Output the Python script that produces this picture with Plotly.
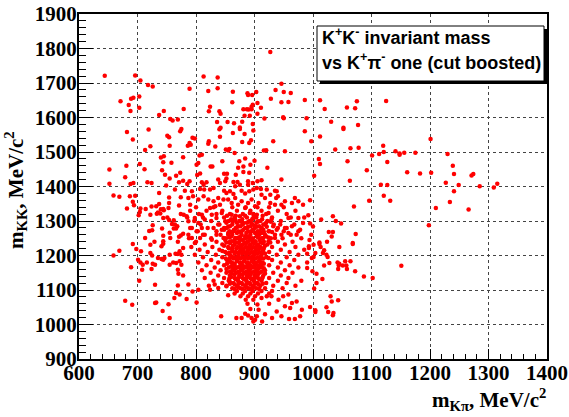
import plotly.graph_objects as go

# ---- data: (m_Kpi, m_KK) in MeV/c^2 ----
pts_upper_left = [(644,1721),(696,1722),(705,1707),(718,1694),(726,1690),(671,1647),(689,1654),(693,1657),(703,1661),(685,1636),(688,1619),(703,1628),(745,1619),(737,1607),(756,1596),(760,1591),(769,1594),(779,1625)]
pts_upper_mid = [(927,1790),(813,1719),(837,1716),(789,1683),(821,1677),(837,1685),(863,1675),(946,1698),(936,1680),(950,1674),(962,1671),(888,1670),(889,1665),(896,1665),(903,1674),(928,1654),(986,1651),(824,1631),(822,1618),(840,1618),(842,1611),(862,1644),(946,1644),(958,1645),(905,1642),(897,1637),(911,1628),(881,1624),(887,1624),(890,1623),(895,1624),(895,1631),(905,1611),(883,1605),(892,1605),(917,1597),(949,1601),(950,1598),(989,1598),(836,1587),(854,1587),(865,1583),(879,1588),(897,1581),(842,1570),(875,1571)]
pts_upper_right = [(1012,1650),(1020,1625),(1058,1629),(1072,1627),(1075,1647),(1125,1648),(1031,1588),(1052,1570),(1077,1578)]
pts_mid_left = [(682,1558),(719,1565),(692,1536),(751,1547),(754,1543),(773,1560),(775,1567),(755,1518),(713,1506),(722,1517),(740,1484),(745,1488),(744,1470),(758,1469),(778,1485),(652,1449),(681,1460),(704,1465),(712,1450),(679,1427),(742,1447),(773,1440),(747,1434),(755,1423),(766,1431),(652,1408),(688,1407),(693,1410),(717,1412),(724,1410),(771,1412),(778,1417),(749,1403),(764,1391),(737,1381),(659,1374),(669,1370),(687,1372),(696,1373),(754,1368),(692,1356),(694,1346),(705,1336),(704,1326),(682,1336),(714,1335),(724,1342),(732,1343),(737,1349),(740,1334),(744,1335),(735,1325),(739,1322),(745,1331),(754,1352),(753,1338),(774,1369),(771,1345),(702,1317),(722,1318),(733,1321),(751,1310),(754,1303),(762,1302),(744,1309),(774,1320),(779,1318),(726,1288),(725,1273),(720,1271),(742,1278),(759,1291),(764,1290),(768,1285),(766,1278),(762,1278),(755,1266),(756,1251),(771,1254),(774,1258),(778,1263),(744,1257),(713,1251),(729,1240),(744,1241),(769,1240)]
pts_mid_centre = [(794,1541),(798,1539),(789,1526),(786,1518),(791,1521),(822,1531),(821,1524),(841,1544),(840,1566),(863,1555),(883,1552),(875,1567),(898,1562),(879,1529),(891,1526),(894,1534),(833,1516),(851,1507),(855,1504),(857,1509),(932,1531),(916,1504),(920,1505),(866,1497),(952,1502),(986,1560),(810,1492),(806,1490),(845,1473),(828,1458),(825,1458),(804,1468),(801,1463),(874,1473),(884,1481),(900,1475),(893,1463),(881,1458),(872,1454),(848,1437),(853,1437),(868,1434),(881,1442),(891,1440),(922,1454),(802,1433),(807,1438),(789,1415),(785,1407),(810,1412),(813,1405),(818,1412),(838,1420),(841,1410),(850,1415),(852,1423),(864,1413),(871,1413),(875,1405),(867,1401),(889,1415),(897,1410),(889,1405),(905,1415),(912,1418),(946,1420),(781,1388),(793,1386),(807,1393),(814,1391),(824,1391),(830,1396),(848,1388),(852,1381),(858,1386),(864,1378),(878,1388),(884,1380),(891,1386),(898,1391),(904,1396),(911,1393),(921,1391),(935,1388),(938,1386),(912,1376),(918,1367),(927,1376),(940,1372),(787,1367),(795,1372),(804,1362),(813,1372),(790,1347),(821,1362),(830,1357),(838,1367),(847,1362),(841,1347),(833,1343),(824,1338),(855,1362),(861,1352),(867,1367),(872,1347),(878,1357),(884,1338),(889,1352),(895,1362),(901,1343),(907,1352),(927,1352),(935,1347),(946,1347),(952,1357),(964,1352),(975,1357),(983,1347),(937,1367),(969,1367)]
pts_core_upper = [(784,1314),(787,1299),(798,1309),(804,1294),(810,1318),(815,1304),(793,1280),(801,1270),(810,1280),(815,1260),(807,1251),(793,1251),(787,1260),(798,1236),(827,1318),(835,1309),(844,1323),(850,1299),(838,1290),(830,1280),(844,1275),(852,1280),(835,1260),(847,1251),(855,1260),(861,1241),(827,1246),(861,1318),(867,1304),(875,1314),(881,1294),(872,1285),(864,1270),(878,1270),(887,1280),(884,1256),(875,1246),(867,1251),(889,1241),(892,1323),(898,1309),(904,1318),(895,1294),(901,1285),(907,1299),(912,1280),(895,1270),(904,1260),(909,1270),(915,1251),(901,1241),(892,1251),(918,1290),(924,1323),(929,1304),(932,1285),(924,1270),(938,1275),(944,1290),(952,1280),(946,1260),(935,1251),(958,1265),(964,1285),(972,1260),(978,1275),(983,1294),(975,1309),(958,1309),(924,1241)]
pts_right_mid = [(1052,1567),(997,1531),(1012,1545),(1038,1507),(1064,1511),(1078,1512),(1120,1518),(1121,1500),(1113,1494),(1101,1490),(1141,1502),(1148,1496),(1148,1492),(1156,1498),(1175,1498),(1010,1480),(1012,1465),(1059,1473),(1127,1471),(1092,1447),(1161,1441),(1183,1438),(1002,1431),(1063,1417),(1116,1405),(1127,1404),(1121,1373),(1132,1359),(995,1360),(1096,1359),(1070,1342),(992,1317),(1014,1304),(1034,1314),(1039,1300),(1048,1293),(995,1293),(1000,1284),(997,1260),(994,1245),(1027,1268),(1034,1268),(1032,1255),(1073,1262),(1011,1238),(1024,1240),(1068,1236),(1198,1288)]
pts_far_right = [(1201,1538),(1230,1494),(1239,1460),(1241,1436),(1202,1440),(1271,1432),(1274,1436),(1227,1411),(1249,1404),(1285,1401),(1309,1397),(1315,1408),(1241,1386),(1234,1355),(1210,1338),(1266,1333)]
pts_low_left = [(659,1200),(669,1214),(692,1233),(698,1219),(706,1212),(701,1188),(705,1180),(709,1173),(716,1180),(726,1176),(724,1161),(689,1166),(708,1159),(703,1127),(730,1173),(735,1193),(741,1190),(744,1188),(746,1193),(722,1231),(722,1207),(725,1200),(741,1227),(744,1234),(755,1202),(765,1205),(769,1204),(775,1202),(772,1183),(755,1173),(761,1180),(766,1178),(775,1173),(769,1159),(770,1147),(778,1142),(769,1113),(766,1091),(772,1087),(763,1077),(778,1222),(772,1212),(730,1115),(679,1069),(691,1057),(732,1064),(730,1062),(753,1059),(743,1039),(755,1019)]
pts_low_centre = [(843,1024),(869,1019),(878,1019),(884,1031),(889,1026),(895,1019),(904,1024),(907,1043),(905,1058),(901,1014),(898,1009),(913,1009),(918,1030),(930,1019),(938,1038),(946,1024),(952,1053),(961,1048),(959,1016),(969,1016),(978,1024),(981,1043),(972,1067),(901,1082),(912,1077),(921,1082),(929,1082),(941,1072),(949,1082),(958,1087),(964,1062),(784,1074),(801,1064),(794,1096),(804,1101),(824,1101),(838,1106),(852,1111),(832,1116),(787,1116),(855,1085)]
pts_low_right = [(993,1227),(1001,1231),(1011,1233),(1013,1225),(1019,1215),(1017,1207),(1023,1202),(1025,1196),(1004,1207),(1001,1196),(998,1193),(990,1205),(993,1222),(1045,1225),(1068,1233),(1028,1178),(1019,1171),(1042,1180),(1045,1176),(1044,1171),(1055,1183),(1064,1183),(1051,1171),(1057,1171),(1058,1161),(1043,1161),(1072,1154),(1087,1139),(1102,1135),(1151,1170),(999,1154),(1006,1147),(990,1164),(1016,1132),(1006,1120),(1002,1104),(1030,1082),(1032,1067),(1043,1070),(995,1051),(1004,1041),(1004,1036),(1023,1050),(1026,1036),(1035,1033),(1034,1027)]

# dense core, row by row: m_KK value of each row and the m_Kpi values in it
core_rows_mkk = [1340,1330,1320,1310,1300,1290,1280,1270,1260,1250,1240,1232,1225,1217,1210,1202,1195,1187,1180,1172,1165,1157,1150,1142,1135,1127,1120,1112,1105,1097,1090,1082,1072,1060,1045]
core_rows_mkpi = [
    [800,830,862,885,905,925,950],
    [790,818,845,870,893,912,940,970],
    [805,835,858,880,898,920,955],
    [785,812,848,866,887,903,930,962,985],
    [797,826,856,874,892,910,922,945],
    [808,840,862,880,896,915,933,968],
    [790,820,848,868,884,900,912,940,955],
    [803,835,857,872,889,905,925,950,975],
    [812,842,862,878,893,908,918,935,962],
    [788,826,851,870,884,897,912,928,948,980],
    [800,835,858,874,888,902,916,940,965],
    [815,845,866,880,893,906,922,952],
    [792,828,855,871,885,898,910,930,970],
    [806,840,862,877,890,903,915,945,985],
    [820,850,868,882,895,908,925,960],
    [798,834,858,873,886,900,912,938,975],
    [812,845,865,879,892,905,920,955],
    [826,853,870,883,896,909,930,968],
    [804,838,860,875,888,901,914,945,990],
    [818,848,866,880,893,906,925,960],
    [832,856,871,885,898,911,940,975],
    [810,842,862,877,890,903,918,952],
    [825,852,868,882,895,908,932,965],
    [838,858,874,887,900,915,945],
    [815,848,866,880,893,906,925,958],
    [830,856,872,886,899,912,940,980],
    [845,864,878,892,905,920,955],
    [822,852,870,884,897,910,932,970],
    [862,876,890,903,918,948],
    [870,884,897,912,930],
    [866,880,893,906,925],
    [876,889],
    [885,898],
    [888,925],
    [893],
]
dense_rows_mkk = [1305,1295,1285,1275,1265,1255,1245,1236,1228,1221,1213,1206,1198,1191,1183,1176,1168,1161,1153,1146,1138,1131,1123,1116,1108]
dense_rows_mkpi = [
    [860,879,896,913],
    [852,870,887,903,920],
    [858,876,893,908],
    [848,865,881,897,915],
    [855,870,886,901,912],
    [860,876,890,904,920],
    [850,866,880,895,909],
    [858,873,886,899,914],
    [848,863,877,891,904,918],
    [856,869,882,895,908],
    [845,862,875,888,901,914],
    [853,866,879,892,905,918],
    [860,872,885,897,910],
    [851,864,876,889,902,915],
    [858,870,882,895,907],
    [853,866,878,890,902,916],
    [860,874,887,899,912],
    [852,867,880,893,906],
    [858,873,886,899,912],
    [866,880,893,906],
    [860,874,888,901,914],
    [868,882,895,908],
    [858,873,887,900],
    [866,880,893,907],
    [872,886,899],
]
fill_rows_mkk = [1315,1298,1283,1268,1252,1238,1222,1208,1193,1178,1163,1148,1133,1118,1103]
fill_rows_mkpi = [
    [853,868,884,899,914],
    [863,877,890,905,928],
    [855,871,889,904,921],
    [860,876,893,916,930],
    [857,873,889,906,924],
    [852,867,883,897,911,927],
    [862,876,889,902,916],
    [857,872,885,899,913],
    [858,870,883,896,911,924],
    [862,876,887,899,911],
    [864,877,890,903,916],
    [861,874,889,903,918],
    [857,871,886,899,913],
    [858,873,887,901,914],
    [866,880,894,908],
]

x_ticks = [600,700,800,900,1000,1100,1200,1300,1400]
y_ticks = [900,1000,1100,1200,1300,1400,1500,1600,1700,1800,1900]

# ---- assemble ----
mkpi, mkk = [], []
for grp in [pts_upper_left, pts_upper_mid, pts_upper_right, pts_mid_left, pts_mid_centre,
            pts_core_upper, pts_right_mid, pts_far_right, pts_low_left, pts_low_centre, pts_low_right]:
    for a, b in grp:
        mkpi.append(a); mkk.append(b)
for rows_y, rows_x in [(core_rows_mkk, core_rows_mkpi), (dense_rows_mkk, dense_rows_mkpi),
                       (fill_rows_mkk, fill_rows_mkpi)]:
    for yv, xs in zip(rows_y, rows_x):
        for xv in xs:
            mkpi.append(xv); mkk.append(yv)

fig = go.Figure()
fig.add_trace(go.Scatter(x=mkpi, y=mkk, mode="markers",
                         marker=dict(color="#ff0000", size=4.5, line=dict(width=0)),
                         hoverinfo="skip", showlegend=False, cliponaxis=True))

W, H = 569, 417
L, R, T, B = 79, 22, 14, 58
pw, ph = W - L - R, H - T - B

def px(xp):
    return (xp - L) / pw

def py(yp):
    return (H - B - yp) / ph

tickfont = dict(family="Liberation Serif", size=21, color="black", weight="bold")
common = dict(showline=True, linecolor="black", linewidth=2, mirror=True,
              showgrid=True, gridcolor="#444444", gridwidth=1, griddash="dot",
              zeroline=False, ticks="inside", tickwidth=1, tickcolor="black",
              tickfont=tickfont, automargin=False)

fig.update_xaxes(range=[600, 1400], tickvals=x_ticks, ticktext=[str(v) for v in x_ticks],
                 ticklen=10, ticklabelstandoff=-6,
                 minor=dict(dtick=20, tick0=600, ticks="inside", ticklen=5,
                            tickcolor="black", showgrid=False), **common)
fig.update_yaxes(range=[900, 1900], tickvals=y_ticks, ticktext=[str(v) for v in y_ticks],
                 ticklen=14, ticklabelstandoff=-4,
                 minor=dict(dtick=20, tick0=900, ticks="inside", ticklen=7,
                            tickcolor="black", showgrid=False), **common)

shapes = [
    dict(type="rect", xref="paper", yref="paper", x0=px(320), x1=px(547), y0=py(84), y1=py(29),
         fillcolor="black", line=dict(width=0)),
    dict(type="rect", xref="paper", yref="paper", x0=px(317), x1=px(544), y0=py(81), y1=py(26),
         fillcolor="white", line=dict(color="black", width=1)),
]

boxfont = dict(family="Liberation Sans", size=18, color="black", weight="bold")
titlefont = dict(family="Liberation Serif", size=21, color="black", weight="bold")
annotations = [
    dict(text="K<sup>+</sup>K<sup>-</sup> invariant mass", xref="paper", yref="paper",
         x=px(320), y=py(36), xanchor="left", yanchor="middle", showarrow=False, font=boxfont),
    dict(text="vs K<sup>+</sup>\u03c0<sup>-</sup> one (cut boosted)", xref="paper", yref="paper",
         x=px(320), y=py(61), xanchor="left", yanchor="middle", showarrow=False, font=boxfont),
    dict(text="m<sub>K\u03c0</sub>, MeV/c<sup>2</sup>", xref="paper", yref="paper",
         x=px(548), y=py(399), xanchor="right", yanchor="middle", showarrow=False, font=titlefont),
    dict(text="m<sub>KK</sub>, MeV/c<sup>2</sup>", xref="paper", yref="paper",
         x=px(15), y=py(190), xanchor="center", yanchor="middle", textangle=-90,
         showarrow=False, font=titlefont),
]

fig.update_layout(width=W, height=H, margin=dict(l=L, r=R, t=T, b=B, pad=0),
                  paper_bgcolor="white", plot_bgcolor="white",
                  shapes=shapes, annotations=annotations, showlegend=False)

fig.write_html("out.html", config={"displayModeBar": False, "staticPlot": True},
               post_script="document.body.style.margin='0';document.body.style.overflow='hidden';")
